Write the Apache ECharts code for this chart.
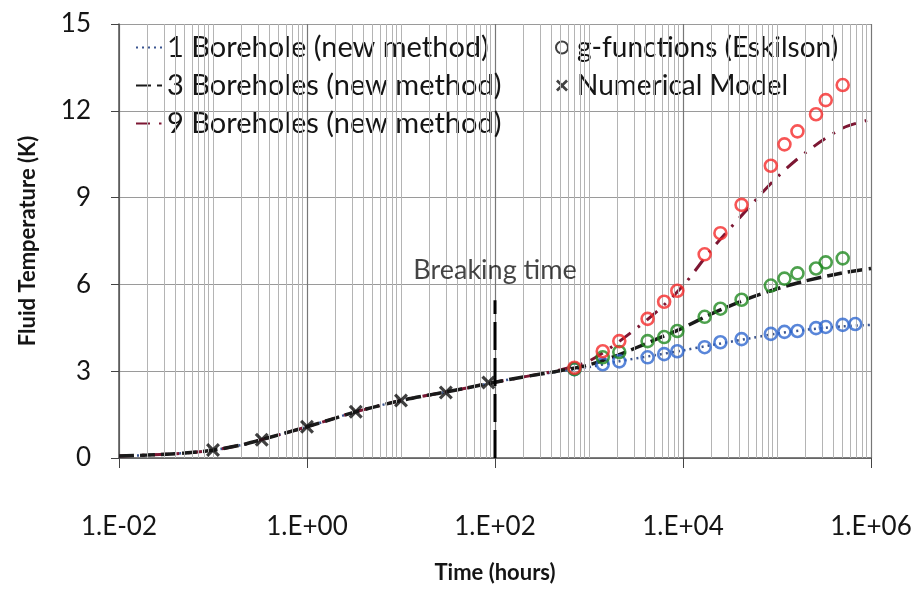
<!DOCTYPE html>
<html>
<head>
<meta charset="utf-8">
<script src="https://cdn.jsdelivr.net/npm/echarts@6/dist/echarts.min.js"></script>
<style>
  html, body { margin: 0; padding: 0; background: #fff; }
  #chart { width: 917px; height: 589px; }
</style>
</head>
<body>
<div id="chart"></div>
<script>
//--------------------- Data ---------------------------//
// time (hours) for the model curves
const lineTimes = [0.01, 0.02, 0.05, 0.1, 0.2, 0.3, 0.5, 1, 2, 3, 5, 10, 20, 30, 50, 100, 200,
  500, 1000, 2000, 5000, 1e4, 2e4, 5e4, 1e5, 2e5, 5e5, 1e6];
const bh1 = [0.07, 0.1, 0.17, 0.27, 0.45, 0.6, 0.8, 1.08, 1.38, 1.56, 1.75, 1.99, 2.18, 2.28, 2.42, 2.62, 2.8,
  3.0, 3.14, 3.33, 3.55, 3.72, 3.9, 4.13, 4.3, 4.43, 4.55, 4.6];
const bh3 = [0.07, 0.1, 0.17, 0.27, 0.45, 0.6, 0.8, 1.08, 1.38, 1.56, 1.75, 1.99, 2.18, 2.28, 2.42, 2.62, 2.8,
  3.02, 3.22, 3.55, 4.08, 4.5, 4.98, 5.52, 5.85, 6.12, 6.4, 6.55];
const bh9 = [0.07, 0.1, 0.17, 0.27, 0.45, 0.6, 0.8, 1.08, 1.38, 1.56, 1.75, 1.99, 2.18, 2.28, 2.42, 2.62, 2.8,
  3.05, 3.35, 3.98, 5.0, 5.95, 7.2, 8.65, 9.7, 10.55, 11.4, 11.7];

// g-functions (Eskilson)
const gTimes = [700, 1400, 2100, 4200, 6300, 8700, 17000, 25000, 42000, 86000, 120000, 165000,
  260000, 330000, 500000, 680000];
const gBlue = [3.07, 3.24, 3.34, 3.48, 3.59, 3.69, 3.83, 4.0, 4.11, 4.29, 4.36, 4.39, 4.49, 4.53, 4.6, 4.63];
const gGreen = [3.07, 3.48, 3.66, 4.04, 4.18, 4.39, 4.88, 5.16, 5.47, 5.96, 6.2, 6.38, 6.55, 6.76, 6.9];
const gRed = [3.12, 3.69, 4.04, 4.81, 5.4, 5.78, 7.04, 7.77, 8.75, 10.1, 10.84, 11.29, 11.88, 12.37, 12.89];

// numerical model
const numTimes = [0.1, 0.33, 1, 3.3, 10, 30, 85];
const numTemps = [0.28, 0.63, 1.08, 1.6, 1.99, 2.26, 2.61];

// breaking time marker
const breakTime = 100;
const breakTop = 5.45;

// decades that get minor gridlines
const decades = [-2, -1, 0, 1, 2, 3, 4, 5];

//--------------------- Helpers ---------------------------//
const FONT = 'Lato';
const TEXT = '#151515';

function pairs(xs, ys) {
  return ys.map((y, i) => [xs[i], y]);
}

function expLabel(v) {
  const e = Math.round(Math.log10(v));
  return '1.E' + (e < 0 ? '-' : '+') + String(Math.abs(e)).padStart(2, '0');
}

// vertical minor gridlines at 1..9 x 10^d (skipping the labelled decades)
const minorLines = [];
decades.forEach((d) => {
  for (let k = 1; k <= 9; k++) {
    if (k === 1 && d % 2 === 0) continue;
    minorLines.push({ xAxis: k * Math.pow(10, d) });
  }
});

const crossPath = 'path://M1.6,0 L5,3.4 L8.4,0 L10,1.6 L6.6,5 L10,8.4 L8.4,10 L5,6.6 L1.6,10 L0,8.4 L3.4,5 L0,1.6 Z';

//--------------------- Chart ---------------------------//
const chart = echarts.init(document.getElementById('chart'));

const option = {
  animation: false,
  textStyle: { fontFamily: FONT },
  grid: { left: 119, right: 46, top: 24, bottom: 131 },
  legend: [
    {
      data: ['1 Borehole (new method)', '3 Boreholes (new method)', '9 Boreholes (new method)'],
      orient: 'vertical',
      left: 130,
      top: 27,
      itemWidth: 26,
      itemHeight: 14,
      itemGap: 7,
      itemStyle: { opacity: 0 },
      textStyle: { fontFamily: FONT, fontSize: 29, color: TEXT, lineHeight: 31 }
    },
    {
      data: ['g-functions (Eskilson)', 'Numerical Model'],
      orient: 'vertical',
      left: 550,
      top: 27,
      itemWidth: 12,
      itemHeight: 12,
      itemGap: 7,
      textStyle: { fontFamily: FONT, fontSize: 28, color: TEXT, lineHeight: 31, padding: [0, 0, 0, 4] }
    }
  ],
  xAxis: {
    type: 'log',
    logBase: 10,
    min: 0.01,
    max: 1e6,
    interval: 2,
    name: 'Time (hours)',
    nameLocation: 'middle',
    nameGap: 104,
    nameTextStyle: { fontFamily: FONT, fontSize: 22, fontWeight: 'bold', color: TEXT },
    axisLine: { show: true, lineStyle: { color: '#555', width: 1.5 } },
    axisTick: { show: true, length: 10, lineStyle: { color: '#444' } },
    axisLabel: { formatter: expLabel, fontSize: 26, color: TEXT, margin: 56 },
    splitLine: { show: true, lineStyle: { color: '#777', width: 1.2 } }
  },
  yAxis: {
    type: 'value',
    min: 0,
    max: 15,
    interval: 3,
    name: 'Fluid Temperature (K)',
    nameLocation: 'middle',
    nameGap: 80,
    nameTextStyle: { fontFamily: FONT, fontSize: 22, fontWeight: 'bold', color: TEXT },
    axisLine: { show: true, lineStyle: { color: '#555', width: 1.5 } },
    axisTick: { show: true, length: 8, lineStyle: { color: '#444' } },
    axisLabel: { fontSize: 26, color: TEXT, margin: 28 },
    splitLine: { show: true, lineStyle: { color: '#9a9a9a', width: 1.2 } }
  },
  series: [
    {
      // minor vertical gridlines
      name: 'grid',
      type: 'line',
      data: [],
      silent: true,
      markLine: {
        silent: true,
        symbol: 'none',
        label: { show: false },
        lineStyle: { color: '#b4b4b4', width: 1, type: 'solid' },
        data: minorLines
      },
      z: 1
    },
    {
      name: '1 Borehole (new method)',
      type: 'line',
      data: pairs(lineTimes, bh1),
      symbol: 'none',
      smooth: 0.3,
      itemStyle: { color: '#3a5590' },
      lineStyle: { color: '#3a5590', width: 2.5, type: [2, 4] },
      z: 3
    },
    {
      name: '9 Boreholes (new method)',
      type: 'line',
      data: pairs(lineTimes, bh9),
      symbol: 'none',
      smooth: 0.3,
      itemStyle: { color: '#7d1733' },
      lineStyle: { color: '#7d1733', width: 3, type: [14, 9, 2.5, 9] },
      z: 3
    },
    {
      name: '3 Boreholes (new method)',
      type: 'line',
      data: pairs(lineTimes, bh3),
      symbol: 'none',
      smooth: 0.3,
      itemStyle: { color: '#1a1a1a' },
      lineStyle: { color: '#1a1a1a', width: 3.5, type: [15, 6] },
      z: 4
    },
    {
      name: 'breaking',
      type: 'line',
      data: [[breakTime, 0], [breakTime, breakTop]],
      symbol: 'none',
      lineStyle: { color: '#000', width: 3, type: [28, 8] },
      z: 4
    },
    {
      name: 'breaking label',
      type: 'scatter',
      data: [[breakTime, breakTop]],
      symbolSize: 0,
      label: {
        show: true,
        position: 'top',
        distance: 17,
        formatter: 'Breaking time',
        fontFamily: FONT,
        fontSize: 27,
        color: TEXT
      },
      z: 5
    },
    {
      name: 'Numerical Model',
      type: 'scatter',
      data: pairs(numTimes, numTemps),
      symbol: crossPath,
      symbolSize: 14,
      itemStyle: { color: '#111' },
      z: 6
    },
    {
      name: 'g-functions (Eskilson)',
      type: 'scatter',
      data: [],
      symbol: 'circle',
      symbolSize: 10,
      itemStyle: { color: '#fff', borderColor: '#111', borderWidth: 2.2 }
    },
    {
      name: 'g blue',
      type: 'scatter',
      data: pairs(gTimes, gBlue),
      symbol: 'circle',
      symbolSize: 12,
      itemStyle: { color: 'rgba(0,0,0,0)', borderColor: '#2f68d0', borderWidth: 2.6 },
      z: 6
    },
    {
      name: 'g green',
      type: 'scatter',
      data: pairs(gTimes, gGreen),
      symbol: 'circle',
      symbolSize: 12,
      itemStyle: { color: 'rgba(0,0,0,0)', borderColor: '#218a21', borderWidth: 2.6 },
      z: 6
    },
    {
      name: 'g red',
      type: 'scatter',
      data: pairs(gTimes, gRed),
      symbol: 'circle',
      symbolSize: 12,
      itemStyle: { color: 'rgba(0,0,0,0)', borderColor: '#f52a2a', borderWidth: 2.6 },
      z: 6
    }
  ]
};

chart.setOption(option);
</script>
</body>
</html>
